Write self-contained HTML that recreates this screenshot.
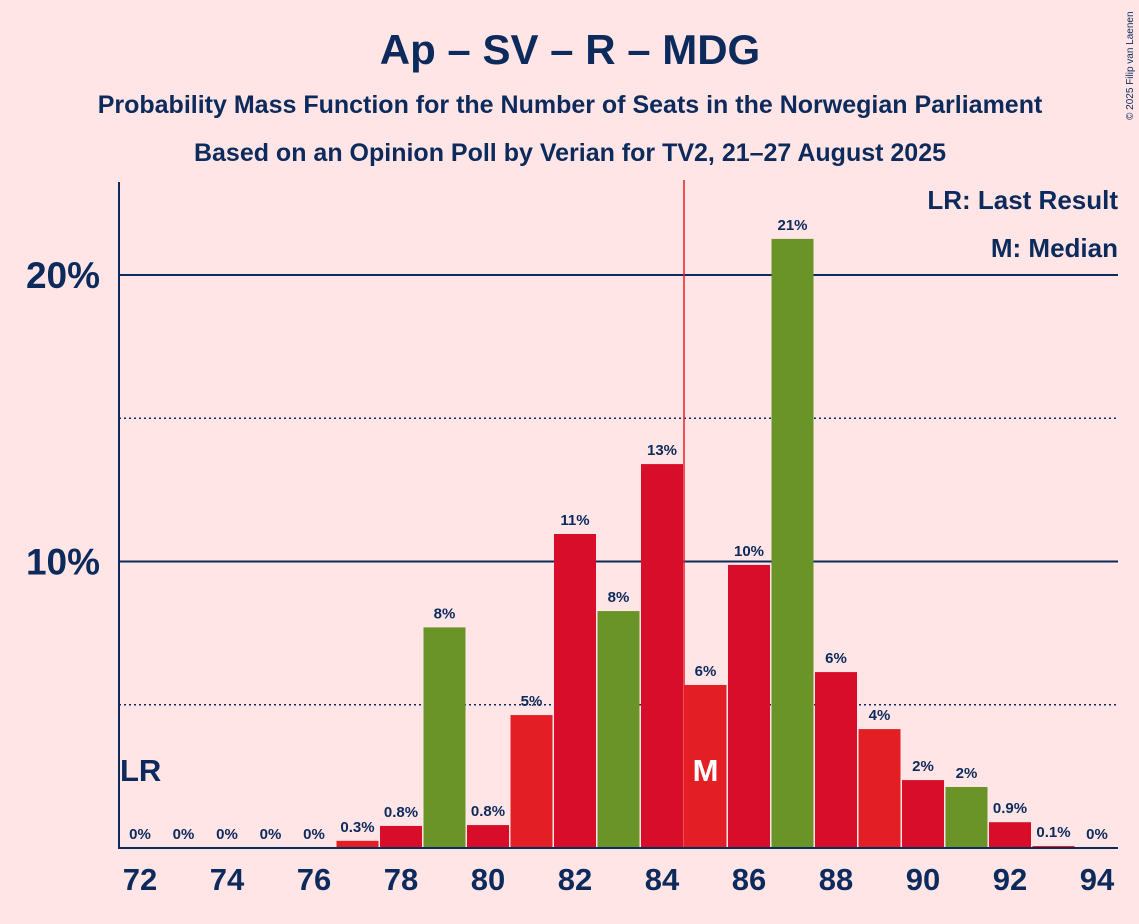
<!DOCTYPE html>
<html><head><meta charset="utf-8"><style>
body{margin:0;background:#ffe5e6;}
svg{display:block;font-family:"Liberation Sans",sans-serif;}
</style></head><body>
<svg id="c" width="1139" height="924">
<rect width="1139" height="924" fill="#ffe5e6"/>
<text x="570" y="64" text-anchor="middle" font-size="42" font-weight="bold" fill="#0c2a5b">Ap – SV – R – MDG</text>
<text x="570" y="113" text-anchor="middle" font-size="25" font-weight="bold" fill="#0c2a5b">Probability Mass Function for the Number of Seats in the Norwegian Parliament</text>
<text x="570" y="161" text-anchor="middle" font-size="25" font-weight="bold" fill="#0c2a5b">Based on an Opinion Poll by Verian for TV2, 21–27 August 2025</text>
<text x="1133" y="120" font-size="10" fill="#0c2a5b" transform="rotate(-90 1133 120)">© 2025 Filip van Laenen</text>
<g id="grid"></g><g id="bars"></g><g id="labels"></g>
<text x="1118" y="209" text-anchor="end" font-size="26" font-weight="bold" fill="#0c2a5b">LR: Last Result</text>
<text x="1118" y="257" text-anchor="end" font-size="26" font-weight="bold" fill="#0c2a5b">M: Median</text>
</svg>
<script>
const seats=[72,73,74,75,76,77,78,79,80,81,82,83,84,85,86,87,88,89,90,91,92,93,94];
const values=[0,0,0,0,0,0.25,0.77,7.7,0.8,4.64,10.96,8.27,13.4,5.69,9.88,21.26,6.14,4.15,2.37,2.13,0.9,0.07,0];
const valueLabels=["0%","0%","0%","0%","0%","0.3%","0.8%","8%","0.8%","5%","11%","8%","13%","6%","10%","21%","6%","4%","2%","2%","0.9%","0.1%","0%"];
const greenSeats=[79,83,87,91];
const yTicks=[10,20];
const yMinor=[5,15];
const lastResult=72, median=85;
const NS="http://www.w3.org/2000/svg";
const x=s=>140+(s-72)*43.5;
const y=v=>848-v*28.65;
function mk(tag,attrs,parent,text){const e=document.createElementNS(NS,tag);for(const k in attrs)e.setAttribute(k,attrs[k]);if(text!==undefined)e.textContent=text;document.getElementById(parent).appendChild(e);return e;}
yMinor.forEach(v=>{const l=mk('line',{x1:119,x2:1118,y1:y(v),y2:y(v),stroke:'#0c2a5b','stroke-width':1.5,'stroke-dasharray':'2,3'},'grid');

});
yTicks.forEach(v=>{const l=mk('line',{x1:119,x2:1118,y1:y(v),y2:y(v),stroke:'#0c2a5b','stroke-width':2},'grid');


const t=mk('text',{x:100,y:y(v)+13,'text-anchor':'end','font-size':37,'font-weight':'bold',fill:'#0c2a5b'},'labels',v+'%');

});
seats.forEach((s,i)=>{
 const v=values[i];
 const col=greenSeats.includes(s)?'#6a9428':(i%2?'#e31e24':'#d80d2a');
 if(v>0){const r=mk('rect',{x:x(s)-21,y:y(v),width:42,height:848-y(v),fill:col},'bars');
 
 }
 const t=mk('text',{x:x(s),y:y(v)-9,'text-anchor':'middle','font-size':15,'font-weight':'bold',fill:'#0c2a5b'},'labels',valueLabels[i]);
 
 
 if(s%2===0){const xt=mk('text',{x:x(s),y:890,'text-anchor':'middle','font-size':31,'font-weight':'bold',fill:'#0c2a5b'},'labels',String(s));
 
 }
});
const ml=mk('line',{x1:x(median)-21.5,x2:x(median)-21.5,y1:180,y2:848,stroke:'#e31e24','stroke-width':1.5},'grid');


const mt=mk('text',{x:x(median),y:781,'text-anchor':'middle','font-size':31,'font-weight':'bold',fill:'#ffffff'},'labels','M');


const lr=mk('text',{x:x(lastResult)-20,y:781,'font-size':31,'font-weight':'bold',fill:'#0c2a5b'},'labels','LR');


const ya=mk('line',{x1:119,x2:119,y1:182,y2:849,stroke:'#0c2a5b','stroke-width':2},'labels');


const xa=mk('line',{x1:118,x2:1118,y1:848,y2:848,stroke:'#0c2a5b','stroke-width':2},'labels');


</script>
</body></html>
